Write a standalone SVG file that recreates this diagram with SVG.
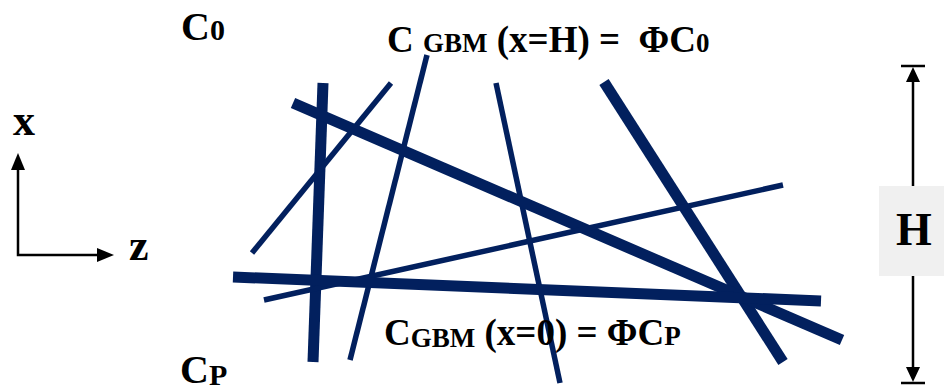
<svg xmlns="http://www.w3.org/2000/svg" width="944" height="391" viewBox="0 0 944 391">
<defs>
<style>
.t{font-family:"Liberation Serif","Times New Roman",serif;font-weight:bold;fill:#000}
.thick{stroke:#02205e;stroke-width:11;fill:none}
.thin{stroke:#02205e;stroke-width:5.5;fill:none}
.ax{stroke:#000;stroke-width:2.5;fill:none}
</style>
</defs>
<g id="fibers">
<line class="thick" x1="323" y1="83" x2="313" y2="362"/>
<line class="thin" x1="391" y1="83" x2="252" y2="253"/>
<line class="thin" x1="427" y1="55" x2="350" y2="360"/>
<line class="thin" x1="496" y1="83" x2="560" y2="383"/>
<line class="thick" x1="604" y1="82" x2="783" y2="362"/>
<line class="thick" x1="293" y1="103" x2="842" y2="340"/>
<line class="thin" x1="264" y1="300" x2="783" y2="185"/>
<line class="thick" x1="233" y1="277" x2="821" y2="301"/>
</g>
<g id="axes">
<polyline class="ax" points="18,168 18,255 100,255"/>
<path d="M11,170 L18,153 L25,170 z" fill="#000"/>
<path d="M97,248 L114,255 L97,262 z" fill="#000"/>
<text class="t" x="13" y="135" font-size="44">x</text>
<text class="t" x="129" y="260" font-size="44">z</text>
</g>
<g id="height">
<line class="ax" x1="913" y1="80" x2="913" y2="370"/>
<line class="ax" x1="901" y1="66" x2="925" y2="66"/>
<line class="ax" x1="901" y1="383" x2="925" y2="383"/>
<path d="M906,82 L913,67 L920,82 z" fill="#000"/>
<path d="M906,367 L913,382 L920,367 z" fill="#000"/>
<rect x="879" y="186" width="65" height="90" fill="#f0f0f0"/>
<text class="t" x="914" y="245" font-size="46" text-anchor="middle">H</text>
</g>
<g id="labels">
<text class="t" x="181" y="40" font-size="40">C<tspan font-size="30">0</tspan></text>
<text class="t" x="387" y="52" font-size="37">C <tspan font-size="27">GBM</tspan> (x=H) =&#160; ΦC<tspan font-size="27">0</tspan></text>
<text class="t" x="384" y="345" font-size="37">C<tspan font-size="27" dy="2">GBM</tspan><tspan dy="-2"> (x=0) = ΦC</tspan><tspan font-size="27">P</tspan></text>
<text class="t" x="180" y="383" font-size="40">C<tspan font-size="30" dy="2">P</tspan></text>
</g>
</svg>
